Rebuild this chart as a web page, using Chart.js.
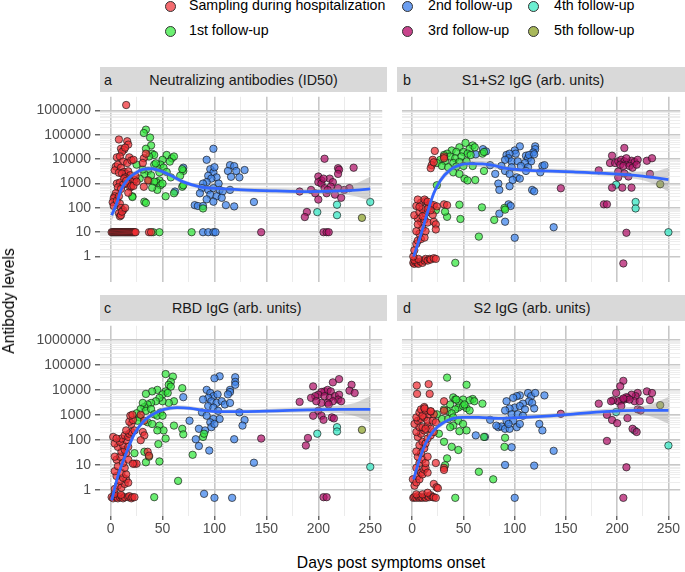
<!DOCTYPE html>
<html>
<head>
<meta charset="utf-8">
<script src="https://cdn.jsdelivr.net/npm/chart.js@4.4.1/dist/chart.umd.min.js"></script>
<style>
  body { margin: 0; background: #fff; font-family: "Liberation Sans", Arial, sans-serif; }
  #page { position: relative; width: 685px; height: 572px; overflow: hidden; }
  .key { position: absolute; font-size: 14.2px; line-height: 16px; white-space: nowrap; color: #000; }
  .dot { position: absolute; width: 11px; height: 11px; border-radius: 50%; border: 0.8px solid #333; box-sizing: border-box; }
  .strip { position: absolute; background: #d9d9d9; }
  .strip span { position: absolute; top: 50%; transform: translate(-50%, -50%); font-size: 14.3px; white-space: nowrap; color: #1a1a1a; }
  .strip span.tag { transform: translate(0, -50%); }
  canvas { position: absolute; }
  .axt { position: absolute; font-size: 15.7px; white-space: nowrap; color: #000; }
</style>
</head>
<body>
<div id="page">
  <!-- legend -->
  <div class="dot" style="left:164.5px;top:0.5px;background:#f46b6f"></div>
  <div class="key" style="left:189px;top:-3px">Sampling during hospitalization</div>
  <div class="dot" style="left:164.5px;top:25.5px;background:#6cf072"></div>
  <div class="key" style="left:189px;top:22px">1st follow-up</div>
  <div class="dot" style="left:401.5px;top:0.5px;background:#6c9ef0"></div>
  <div class="key" style="left:428px;top:-3px">2nd follow-up</div>
  <div class="dot" style="left:401.5px;top:25.5px;background:#c8448c"></div>
  <div class="key" style="left:428px;top:22px">3rd follow-up</div>
  <div class="dot" style="left:527.5px;top:0.5px;background:#6cf0d2"></div>
  <div class="key" style="left:554px;top:-3px">4th follow-up</div>
  <div class="dot" style="left:527.5px;top:25.5px;background:#a8b85a"></div>
  <div class="key" style="left:554px;top:22px">5th follow-up</div>

  <!-- facet strips -->
  <div class="strip" style="left:100px;top:67px;width:287px;height:25px">
    <span class="tag" style="left:4px">a</span><span style="left:143.5px">Neutralizing antibodies (ID50)</span>
  </div>
  <div class="strip" style="left:397px;top:67px;width:288px;height:25px">
    <span class="tag" style="left:6px">b</span><span style="left:136px">S1+S2 IgG (arb. units)</span>
  </div>
  <div class="strip" style="left:100px;top:295px;width:287px;height:26px">
    <span class="tag" style="left:4px">c</span><span style="left:136.7px">RBD IgG (arb. units)</span>
  </div>
  <div class="strip" style="left:397px;top:295px;width:288px;height:26px">
    <span class="tag" style="left:6px">d</span><span style="left:135px">S2 IgG (arb. units)</span>
  </div>

  <canvas id="pa" width="387" height="195" style="left:0;top:92px"></canvas>
  <canvas id="pb" width="288" height="195" style="left:397px;top:92px"></canvas>
  <canvas id="pc" width="387" height="219" style="left:0;top:321px"></canvas>
  <canvas id="pd" width="288" height="219" style="left:397px;top:321px"></canvas>

  <div class="axt" style="left:391px;top:563px;transform:translate(-50%,-50%)">Days post symptoms onset</div>
  <div class="axt" style="left:9px;top:301px;transform:translate(-50%,-50%) rotate(-90deg)">Antibody levels</div>
</div>

<script>
/* =========================
   DATA  [day, level]
==========================*/
const xTickLabels = [0, 50, 100, 150, 200, 250];
const xMinorTicks = [25, 75, 125, 175, 225];
const yTickLabels = [1, 10, 100, 1000, 10000, 100000, 1000000];

const seriesNames = ["Sampling during hospitalization", "1st follow-up", "2nd follow-up", "3rd follow-up", "4th follow-up", "5th follow-up"];
const seriesColors = [
  "rgba(240,45,50,0.72)",
  "rgba(50,232,60,0.72)",
  "rgba(60,130,235,0.72)",
  "rgba(178,18,105,0.72)",
  "rgba(50,232,195,0.72)",
  "rgba(140,162,40,0.72)"
];

// a: neutralizing antibodies
const hospA = [[15,1700000],[8,65000],[10,27000],[13,25000],[16,55000],[17,40000],[11,20000],[14,30000],[6,12000],[9,13000],[18,12000],[12,8000],[5,5000],[7,6000],[4,3500],[10,4500],[13,3000],[15,2500],[16,7000],[17,3200],[19,2200],[20,9000],[22,9500],[8,2800],[11,2600],[14,1800],[18,1500],[21,1200],[23,1400],[24,2000],[6,1000],[9,1100],[12,900],[13,1600],[15,1300],[16,1000],[19,700],[20,800],[7,700],[10,600],[5,400],[4,300],[3,250],[2,170],[3,120],[6,200],[8,300],[9,150],[10,100],[12,80],[8,60],[9,45],[10,50],[11,70],[14,100],[17,420],[22,800],[25,1200],[32,11000],[31,7000],[34,17000],[36,1350],[32,740],
  [1,10],[2,10],[3,10],[4,10],[5,10],[6,10],[7,10],[8,10],[9,10],[10,10],[11,10],[12,10],[13,10],[14,10],[15,10],[16,10],[17,10],[18,10],[19,10],[20,10],[21,10],[22,10],[23,10],[24,10],[37,10],[39,10]];
const fu1A = [[34,165000],[32,120000],[38,78000],[39,37000],[34,27000],[40,17000],[42,15000],[37,13000],[54,15000],[59,11000],[61,13000],[57,8000],[50,9500],[48,6000],[45,4500],[42,6000],[36,3300],[32.5,2500],[31,3800],[25,6000],[28,1600],[37,1350],[47,1350],[44,1150],[48,850],[53,300],[61,400],[58,1800],[69,740],[70,850],[70,3300],[69,3900],[21,300],[32.5,180],[34,160],[42,1200],[45,550],[40,680],[50,1000],[67,2100],[43.5,6800],[51,4500],[54,3000],[39,2200],[47,2900],[89,95],[21,280],
  [41,10],[47,10],[78,10]];
const fu2A = [[99,27000],[92.5,9500],[115,5700],[119,5200],[121,3300],[129,3600],[113,3300],[116,1900],[124,1800],[96,3900],[99,2900],[100,4700],[102,1800],[94,2100],[97,1600],[104,1000],[92.5,1150],[89,1000],[88,650],[94,550],[99,650],[105,550],[108,480],[115,550],[96,350],[102,300],[107,260],[92.5,225],[99,180],[86,400],[70,4500],[62,470],[138,175],[111,130],[119,115],[81,130],[84,120],[89,120],
  [89,10],[94,10],[99,10],[101,10]];
const fu3A = [[206,10500],[219,4300],[220,3700],[219,2500],[234,4500],[200,1950],[203,1350],[211,1600],[214,1150],[200,1150],[203,1000],[206,650],[212,750],[219,650],[225,550],[230,650],[193,550],[182,470],[197,400],[208,400],[216,350],[222,260],[200,220],[189,68],[187,42],[209,550],[205,1600],
  [205,10],[208,10],[210,10],[145,10]];
const fu4A = [[199,67],[218,135],[218,50],[250,175]];
const fu5A = [[242,39]];
// [day, fit, lower, upper]
const fitA = [[1,50,28,89],[6,158,105,240],[10,550,390,780],[17,1580,1200,2090],[25,2880,2290,3630],[32,3890,3090,4900],[40,4070,3240,5130],[48,3310,2630,4170],[58,2140,1700,2690],[70,1175,955,1445],[86,740,620,890],[102,630,525,760],[127,550,445,675],[159,500,400,630],[190,470,365,600],[222,500,355,710],[236,540,300,1000],[250,600,190,1900]];

// b: S1+S2 IgG
const hospB = [[1,0.55],[2,0.5],[3,0.6],[5,0.55],[6,0.5],[8,0.62],[10,0.55],[12,0.68],[13,0.8],[15,0.68],[17,0.8],[18,0.75],[21,0.85],[23,0.8],[2,0.72],[6,0.8],[1,1],
  [2,1.8],[4,3.3],[5.4,4.5],[8.5,5.2],[12,6],[7,8.7],[4,11],[10,15],[13,11],[8.5,27],[5.4,37],[12,33],[15,25],[21,27],[23,21],[2,50],[7,67],[13,60],[10,90],[4,120],[16,110],[18,140],[8.5,165],[13,190],[21,130],[24,115],[31,140],[34,130],[5.4,220],[12,220],[15,180],[20,52],[23,13],[7,110],[10,45],[5.4,21],[15,90],[18,80],
  [22,22000],[20,9500],[19,5700],[18,4300],[21,7500],[31,13000],[31,11000]];
const fu1B = [[52,47000],[59,37000],[46,31000],[56,27000],[61,31000],[38.5,23000],[43,20000],[50,20000],[54,17000],[34,17000],[31,15000],[37,13000],[42,11000],[48,13000],[57,15000],[27.5,9500],[32,8200],[40,7000],[46,7700],[53,8200],[24,7000],[29,5300],[35,4700],[43,5000],[50,5300],[59,5300],[70,3300],[40,2900],[51,1600],[61.5,1400],[54,1350],[46,2500],[68.5,17000],[70,20000],[24,850],[46,135],[68,105],[47,35],[34,43],[32,70],[23,80],[80,32],[90,100],[90.6,85],[65,6.6],[42,0.55]];
const fu2B = [[120,34000],[120,26000],[118,19000],[105,34000],[100,23000],[101,17000],[92,15000],[95,17000],[94,11000],[97,8200],[90.6,9500],[103,8200],[111,14000],[113,11000],[114,15000],[116,8200],[119,16000],[110,7000],[87,5300],[97,4700],[106,5300],[113,4700],[127,5300],[129,5700],[90.6,3300],[95,2500],[102,1800],[105,1600],[98,1400],[81,2500],[84,1000],[85,550],[95,780],[117,550],[119,480],[111,3300],[125,2900],[69,26000],[72,21000],[62,16000],[76,5700],[94,140],[96,120],[85,58],[90.6,27],[100,5.9],[138,16]];
const fu3B = [[207,29000],[195,14000],[193,7000],[198,7000],[201,8200],[204,9500],[207,8200],[211,7000],[214,8700],[217,7700],[220,9500],[209,11000],[203,6000],[206,5300],[212,5300],[215,4500],[219,6000],[229,8700],[234,11000],[182,3500],[201,3100],[207,2600],[201,1800],[211,1950],[232,2500],[195,680],[205,680],[214,680],[145,640],[187,140],[190,140],[209,9.5],[206,0.52]];
const fu4B = [[199,900],[218,175],[218,95],[250,10]];
const fu5B = [[242,940]];
const fitB = [[1.3,1,0.7,1.4],[8.5,8.1,5.8,11.5],[15,68,48,95],[21,400,290,550],[27.5,1350,1000,1800],[37,3630,2750,4800],[46,5750,4400,7600],[56,6600,5000,8700],[68.5,6450,4900,8500],[78,5750,4500,7400],[90.6,4270,3400,5400],[110,3550,2900,4350],[128,3300,2700,4050],[157,3000,2400,3800],[188,2630,2100,3300],[220,2140,1500,3000],[235,1780,1000,3100],[250,1450,470,4500]];

// c: RBD IgG
const hospC = [[1,0.5],[2.5,0.45],[4,0.55],[5.7,0.5],[7,0.45],[9,0.5],[10.4,0.55],[12,0.45],[13.6,0.5],[17,0.5],[18,0.55],[20,0.45],[21,0.5],[23,0.5],[4,0.68],[10,0.62],
  [4,1.06],[7,1.45],[10.4,1.2],[13.6,1.7],[15,2.6],[9,2.25],[5.7,3.5],[12,3],[17,1.9],[4,5.5],[10.4,4.8],[15,4.1],[7,8.7],[13.6,7.5],[12,11.8],[5.7,16],[9,21],[17,16],[15,29],[4,21],[10.4,33],[13.6,39],[23,11],[25,11],[21.5,11],[7,52],[12,61],[17,52],[4,71],[15,96],[9,83],[10.4,112],[2.5,130],[5.7,112],[13.6,150],[17,130],[18,175],[20,205],[15,237],[23,237],[20,430],[18,530],[21.5,620],[19,920],[21,1000],[29,1000],[32.5,580],[31,205],[32.5,150],[29,96],[35.7,33],[37,23]];
const fu1C = [[53,43000],[60,34000],[58,21000],[56,16000],[58,13500],[45,10000],[53,8700],[50,6600],[55,7500],[40,8700],[34,6900],[69,11700],[61,3500],[56,3000],[50,3500],[47,4800],[43.5,3500],[39,3000],[35.7,2600],[32.5,2050],[31,3000],[29,1700],[34,1450],[39,1700],[42,1050],[48,1250],[25,1150],[28,790],[45,920],[50,920],[26,580],[35.7,500],[40,430],[47,370],[51,237],[45,237],[61,370],[69,275],[70,165],[53,112],[46,67],[32.5,33],[34,12.5],[47,13.5],[37,21],[23,29],[79,25],[65,2.25],[42,0.5],[89,130],[90,175]];
const fu2C = [[105,35000],[100,29000],[120,32000],[120,21000],[120,16000],[115,10000],[115,8200],[113,6600],[92.5,10000],[96,7500],[99,5600],[103,6600],[94,4800],[89,4100],[97,3500],[102,3000],[107,3500],[110,2600],[115,3000],[94,2250],[99,1950],[103.5,1450],[88,1250],[92.5,920],[99,680],[105,680],[96,500],[85,275],[91,237],[97,320],[100,430],[124,1250],[129,620],[127,370],[70,5100],[76,580],[82,105],[85,56],[95,37],[119,105],[138,12],[90,0.68],[100,0.47],[117,0.47]];
const fu3C = [[195,13800],[214,20000],[220,27000],[232,16000],[230,9300],[235,7500],[206,8700],[209,10000],[212,8700],[203,8200],[200,6400],[197,5600],[193,4800],[206,5600],[211,4800],[216,5600],[220,6400],[219,4100],[222,3500],[214,3500],[209,3000],[203,3000],[198,3500],[182,3300],[200,1450],[210,2600],[195,920],[203,920],[205,630],[213,790],[215,720],[145,112],[190,118],[188,59],[205,0.5],[208,0.5]];
const fu4C = [[199,175],[218,320],[218,215],[250,8.2]];
const fu5C = [[242,250]];
const fitC = [[1,0.37,0.22,0.62],[7,3.5,2.5,5],[15,29,21,40],[23,174,135,225],[32.5,590,470,740],[42,1120,900,1400],[51.5,1660,1350,2040],[64,1950,1600,2400],[77,1820,1520,2190],[89,1510,1260,1800],[105,1350,1130,1600],[127,1350,1120,1620],[159,1450,1170,1800],[190,1580,1250,2000],[222,1660,1150,2400],[235,1660,900,3000],[250,1660,500,5500]];

// d: S2 IgG
const hospD = [[1,0.47],[2,0.5],[4,0.47],[5.4,0.55],[7,0.47],[8.5,0.5],[10,0.47],[12,0.5],[13.5,0.47],[15,0.55],[16.5,0.5],[18,0.6],[20,0.5],[21,0.5],[23,0.47],[4,0.65],[10,0.65],[15,0.75],
  [21,1.7],[23.7,1.25],[25,1.15],[0.6,2.6],[2.2,1.45],[4,1.95],[5.4,3.5],[7,2.6],[8.5,4.8],[10,4.1],[11.7,6.4],[13,7.5],[15,4.8],[4,7.5],[7,11.7],[10,16],[13,11.7],[5.4,21],[8.5,29],[15,21],[11.7,45],[23,11.7],[31,7.5],[31,6.2],[4,34],[7,61],[10,83],[13,71],[5.4,130],[15,112],[18,150],[21,205],[8.5,175],[11.7,237],[4,205],[7,320],[10,320],[15,370],[18,275],[2.2,430],[5.4,580],[8.5,680],[11.7,790],[15,580],[20,580],[4,790],[7,1250],[16.4,1050],[10,920],[13,275],[23,500],[21,1050],[8.5,1650],[13,1500],[18,1350],[11.7,2050],[31,3500],[31,1450],[4.4,15000],[16,17000],[4.7,6900],[17,6900],[12,1800],[18,1400]];
const fu1D = [[34,31000],[53,16000],[40,5000],[42,4100],[49.6,4100],[59,4300],[56,3800],[60.6,3500],[46,3000],[37,2600],[45,1950],[42,1650],[49.6,2250],[53,1850],[56,1500],[34,1450],[38.5,1150],[31,1650],[29,680],[35,680],[40,790],[45,580],[49.6,430],[53,237],[46,220],[40,370],[37,320],[24,1050],[26,175],[31,83],[38.5,52],[45,39],[34,18],[32,9.5],[65,5.2],[79,2.6],[42,0.47],[68.5,2800],[70,130],[90.6,120],[90,52],[43,4100],[51,2600]];
const fu2D = [[105,6000],[102,5600],[98.5,4800],[92,3500],[113,7500],[116,5600],[120,7500],[129,6000],[114,3500],[117,3000],[108,2800],[100,1950],[105,2250],[95,1800],[90.6,1500],[110,1650],[119,1800],[97,1050],[103,1050],[108,920],[92,580],[98.5,580],[84,320],[87,340],[90.6,275],[95,275],[102,320],[105,430],[94,430],[76,630],[82,370],[62,150],[71,130],[124,430],[127,237],[97,50],[90.6,9.8],[119,9.2],[138,36],[100,0.47]];
const fu3D = [[206,23000],[203,14000],[199,7500],[220,7500],[218,5600],[214,6400],[210,4800],[207,4100],[204,3800],[201,3500],[196,3800],[194,3500],[217,3500],[222,3500],[229,8700],[234,7500],[232,3900],[182,2800],[204,2250],[220,1650],[223,1500],[190,1000],[195,620],[200,460],[210,740],[215,275],[219,205],[190,90],[209,7.9],[206,0.47],[145,1100],[209,5100],[212,4100],[206,4500]];
const fu4D = [[199,1300],[217,235],[250,59]];
const fu5D = [[242,2450]];
const fitD = [[1.3,2.6,1.6,4.3],[7,16,11,23],[13,71,52,97],[21,234,180,300],[31,500,400,630],[40,725,590,890],[49.6,795,650,970],[65,795,650,970],[84,725,600,880],[110,795,660,960],[135,910,740,1120],[157,1070,850,1350],[188,1350,1070,1700],[220,1510,1050,2200],[235,1510,800,2800],[250,1510,440,5200]];

/* =========================
   GRÁFICOS
==========================*/
const FONT = '"Liberation Sans", Arial, sans-serif';
Chart.defaults.font.family = FONT;

const X_MIN = -10.2, X_MAX = 261.5;
const Y_MIN = 0.088, Y_MAX = 3.7e6;

const xGrid = xTickLabels.concat(xMinorTicks).sort((a, b) => a - b);
const yGrid = [];
for (let e = 0; e < 6; e++) {
  for (let m = 1; m < 10; m++) yGrid.push(m * Math.pow(10, e));
}
yGrid.push(1000000);

const MAJOR = "#c8c8c8";
const MINOR = "#e9e9e9";

function makePanel(id, series, fit, showY, showX) {
  const pts = (rows) => rows.map((r) => ({ x: r[0], y: r[1] }));
  const datasets = [
    {
      type: "line",
      data: fit.map((r) => ({ x: r[0], y: r[1] })),
      borderColor: "#3366ff",
      borderWidth: 2.8,
      pointRadius: 0,
      fill: false,
      tension: 0.4,
      cubicInterpolationMode: "monotone",
    },
    {
      type: "line",
      data: fit.map((r) => ({ x: r[0], y: r[3] })),
      borderColor: "rgba(0,0,0,0)",
      borderWidth: 0,
      pointRadius: 0,
      fill: false,
      tension: 0.4,
      cubicInterpolationMode: "monotone",
    },
    {
      type: "line",
      data: fit.map((r) => ({ x: r[0], y: r[2] })),
      borderColor: "rgba(0,0,0,0)",
      borderWidth: 0,
      pointRadius: 0,
      fill: "-1",
      backgroundColor: "rgba(153,153,153,0.4)",
      tension: 0.4,
      cubicInterpolationMode: "monotone",
    },
  ];

  series.forEach((s, i) => {
    datasets.push({
      type: "scatter",
      label: seriesNames[i],
      data: pts(s),
      backgroundColor: seriesColors[i],
      borderColor: "rgba(25,25,25,0.85)",
      borderWidth: 0.8,
      pointRadius: 3.7,
    });
  });

  new Chart(document.getElementById(id), {
    type: "scatter",
    data: { datasets },
    options: {
      responsive: false,
      animation: false,
      devicePixelRatio: 1,
      events: [],
      layout: { padding: 0 },
      plugins: { legend: { display: false }, tooltip: { enabled: false } },
      scales: {
        x: {
          type: "linear",
          min: X_MIN,
          max: X_MAX,
          afterBuildTicks: (s) => { s.ticks = xGrid.map((v) => ({ value: v })); },
          ticks: {
            display: showX,
            autoSkip: false,
            maxRotation: 0,
            padding: 1,
            color: "#4d4d4d",
            font: { size: 14 },
            callback: (v) => (xTickLabels.includes(v) ? String(v) : ""),
          },
          grid: {
            color: (c) => (c.tick && xTickLabels.includes(c.tick.value) ? MAJOR : MINOR),
            lineWidth: (c) => (c.tick && xTickLabels.includes(c.tick.value) ? 1.6 : 0.9),
            drawTicks: showX,
            tickLength: 4,
            tickWidth: 1.1,
            tickColor: (c) => (c.tick && xTickLabels.includes(c.tick.value) ? "#333" : "rgba(0,0,0,0)"),
          },
          border: { display: false },
          afterFit: (s) => {
            s.height = showX ? 24 : 0;
            s.paddingLeft = 0;
            s.paddingRight = 0;
          },
        },
        y: {
          type: "logarithmic",
          min: Y_MIN,
          max: Y_MAX,
          afterBuildTicks: (s) => { s.ticks = yGrid.map((v) => ({ value: v })); },
          ticks: {
            display: showY,
            autoSkip: false,
            padding: 4,
            color: "#4d4d4d",
            font: { size: 14 },
            callback: (v) => (yTickLabels.includes(v) ? String(v) : ""),
          },
          grid: {
            color: (c) => (c.tick && yTickLabels.includes(c.tick.value) ? MAJOR : MINOR),
            lineWidth: (c) => (c.tick && yTickLabels.includes(c.tick.value) ? 1.6 : 0.8),
            drawTicks: showY,
            tickLength: 5,
            tickWidth: 1.1,
            tickColor: (c) => (c.tick && yTickLabels.includes(c.tick.value) ? "#333" : "rgba(0,0,0,0)"),
          },
          border: { display: false },
          afterFit: (s) => {
            s.width = showY ? 100 : 0;
            s.paddingTop = 0;
            s.paddingBottom = 0;
          },
        },
      },
    },
  });
}

makePanel("pa", [hospA, fu1A, fu2A, fu3A, fu4A, fu5A], fitA, true, false);
makePanel("pb", [hospB, fu1B, fu2B, fu3B, fu4B, fu5B], fitB, false, false);
makePanel("pc", [hospC, fu1C, fu2C, fu3C, fu4C, fu5C], fitC, true, true);
makePanel("pd", [hospD, fu1D, fu2D, fu3D, fu4D, fu5D], fitD, false, true);
</script>
</body>
</html>
